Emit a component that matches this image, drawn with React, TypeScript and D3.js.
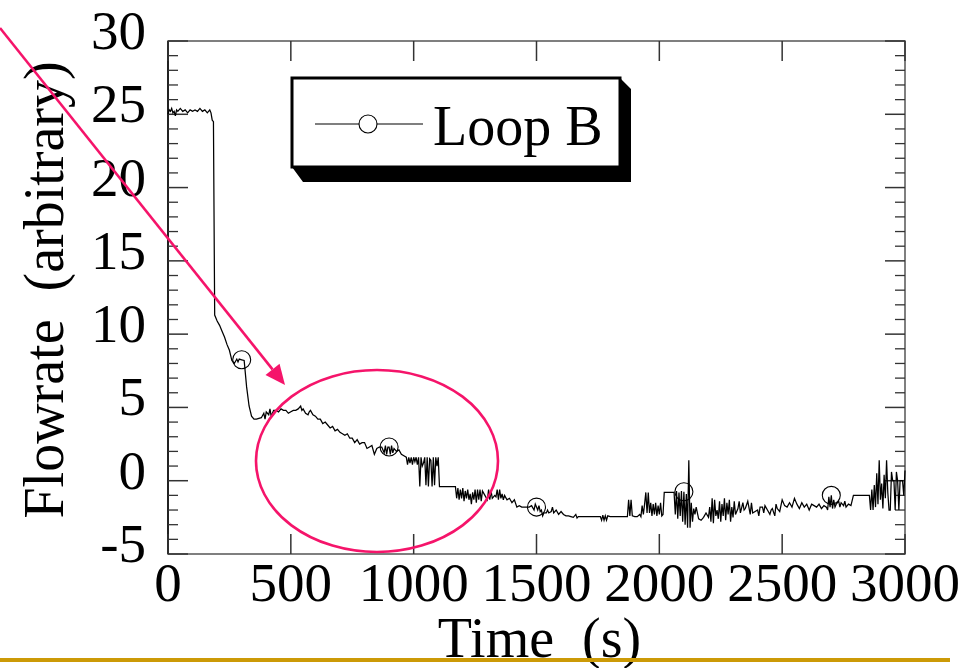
import React from "react";
import * as d3 from "d3";

const xTicks = [0, 500, 1000, 1500, 2000, 2500, 3000];
const yTicks = [-5, 0, 5, 10, 15, 20, 25, 30];
const markerTimes = [300, 900, 1500, 2100, 2700];
const seriesName = "Loop B";
const xTitle = "Time  (s)";
const yTitle = "Flowrate  (arbitrary)";

// [time (s), flowrate]
const loopB: [number, number][] = [
  [0, 25.0], [5, 25.3], [10, 25.2], [15, 25.4], [20, 25.1], [25, 25.2], [30, 24.9], [35, 25.3], [40, 25.2],
  [50, 25.4], [60, 25.2], [70, 25.3], [80, 25.1], [90, 25.3], [100, 25.2], [110, 25.3], [120, 25.2],
  [130, 25.4], [140, 25.2], [150, 25.3], [160, 25.1], [170, 25.3], [175, 25.1], [180, 24.6], [185, 24.5],
  [190, 11.3], [200, 10.9], [210, 10.6], [220, 10.2], [230, 9.8], [240, 9.3], [250, 8.9], [260, 8.2],
  [270, 8.0], [280, 8.3], [285, 8.1], [290, 8.3], [300, 8.25], [310, 8.2], [320, 6.4], [330, 5.1],
  [340, 4.4], [350, 4.2], [360, 4.2], [370, 4.25], [380, 4.3], [390, 4.6], [395, 4.2], [400, 4.7],
  [410, 4.5], [415, 4.9], [420, 4.4], [430, 4.8], [440, 4.8], [450, 4.7], [460, 4.9], [470, 4.8],
  [480, 4.8], [490, 4.6], [500, 4.7], [510, 4.8], [520, 4.8], [530, 4.9], [540, 5.1], [545, 4.8],
  [550, 4.9], [560, 4.6], [570, 4.5], [575, 4.7], [580, 4.8], [590, 4.5], [600, 4.4], [610, 4.2],
  [620, 4.2], [630, 3.9], [640, 4.0], [650, 3.8], [660, 3.6], [670, 3.7], [680, 3.4], [690, 3.5],
  [700, 3.3], [710, 3.2], [720, 3.1], [730, 3.2], [740, 2.9], [750, 2.9], [760, 2.6], [770, 2.8],
  [780, 2.5], [790, 2.6], [800, 2.6], [810, 2.2], [820, 2.3], [830, 2.4], [840, 1.8], [850, 2.2],
  [860, 2.3], [870, 2.3], [880, 1.9], [885, 2.4], [890, 1.8], [895, 2.3], [900, 2.3], [905, 1.8],
  [910, 2.4], [915, 1.9], [920, 2.2], [930, 2.0], [940, 2.1], [950, 1.8], [960, 1.7], [970, 1.6],
  [975, 1.1], [980, 1.6], [985, 1.2], [990, 1.6], [995, 1.1], [1000, 1.6], [1005, 1.3], [1010, 1.6],
  [1015, 1.1], [1020, 1.6], [1025, -0.4], [1030, 1.6], [1035, 1.0], [1040, 1.2], [1045, 1.6],
  [1050, -0.3], [1055, 1.6], [1060, -0.4], [1065, 1.5], [1070, 1.4], [1075, -0.4], [1080, 1.6],
  [1085, -0.3], [1090, 1.6], [1095, 1.0], [1100, 1.6], [1105, -0.4], [1170, -0.4], [1175, -1.2],
  [1180, -0.5], [1185, -1.3], [1190, -0.6], [1195, -1.2], [1200, -0.5], [1205, -1.4], [1210, -0.7],
  [1215, -1.2], [1220, -0.6], [1225, -1.3], [1230, -0.9], [1235, -1.6], [1240, -0.8], [1245, -1.3],
  [1250, -0.6], [1255, -1.5], [1260, -0.6], [1265, -1.3], [1270, -0.6], [1275, -1.4], [1280, -0.7],
  [1290, -1.0], [1300, -1.3], [1305, -0.6], [1310, -1.3], [1315, -0.7], [1320, -1.2], [1330, -1.0],
  [1335, -1.1], [1340, -0.6], [1345, -1.3], [1350, -0.6], [1355, -1.2], [1360, -0.9], [1365, -1.3],
  [1370, -1.0], [1380, -1.3], [1390, -1.2], [1400, -1.5], [1410, -1.3], [1420, -1.8], [1430, -1.7],
  [1440, -1.8], [1450, -1.8], [1460, -1.8], [1470, -1.8], [1480, -1.7], [1490, -2.0], [1495, -1.6],
  [1500, -1.8], [1505, -2.0], [1510, -1.7], [1515, -2.1], [1520, -2.0], [1525, -2.4], [1530, -2.2],
  [1540, -2.2], [1545, -2.0], [1550, -2.2], [1560, -2.1], [1565, -1.8], [1570, -2.2], [1580, -2.0],
  [1590, -2.3], [1600, -2.1], [1610, -2.3], [1620, -2.4], [1630, -2.4], [1640, -2.45], [1650, -2.5],
  [1660, -2.3], [1665, -2.55], [1670, -2.45], [1760, -2.45], [1765, -2.7], [1770, -2.35], [1775, -2.7],
  [1780, -2.4], [1785, -2.7], [1790, -2.4], [1800, -2.45], [1870, -2.45], [1875, -1.3], [1880, -2.4],
  [1885, -1.3], [1890, -2.4], [1900, -2.45], [1910, -2.45], [1920, -2.3], [1925, -2.45], [1930, -1.7],
  [1935, -2.3], [1940, -1.6], [1945, -0.8], [1950, -2.2], [1955, -0.8], [1960, -2.2], [1965, -1.5],
  [1970, -2.4], [1975, -1.6], [1980, -2.3], [1985, -1.5], [1990, -2.4], [1995, -1.7], [2000, -2.3],
  [2005, -1.5], [2010, -2.4], [2015, -2.3], [2020, -0.8], [2060, -0.8], [2065, -2.3], [2070, -0.7],
  [2075, -2.6], [2080, -0.8], [2085, -2.4], [2090, -0.7], [2095, -2.8], [2100, -0.75], [2105, -3.0],
  [2110, -0.9], [2115, -3.2], [2120, 1.4], [2125, -3.2], [2130, -1.5], [2135, -2.8], [2140, -1.9],
  [2145, -2.3], [2150, -1.8], [2160, -2.6], [2170, -2.7], [2180, -2.5], [2190, -2.2], [2200, -2.5],
  [2205, -1.8], [2210, -2.8], [2215, -1.2], [2220, -2.9], [2225, -1.3], [2230, -2.4], [2235, -2.0],
  [2240, -2.6], [2245, -1.4], [2250, -2.8], [2255, -1.6], [2260, -2.4], [2265, -1.2], [2270, -2.7],
  [2275, -1.5], [2280, -2.3], [2285, -1.3], [2290, -2.8], [2295, -1.8], [2300, -2.5], [2305, -1.4],
  [2310, -2.3], [2320, -1.9], [2325, -1.4], [2330, -2.2], [2340, -1.5], [2345, -2.0], [2350, -1.9],
  [2360, -1.4], [2370, -2.3], [2375, -1.5], [2380, -2.2], [2390, -2.1], [2400, -2.0], [2405, -2.4],
  [2410, -1.8], [2420, -1.8], [2425, -2.2], [2430, -1.7], [2440, -2.0], [2450, -2.3], [2455, -2.0],
  [2460, -1.9], [2470, -2.4], [2475, -1.6], [2480, -1.9], [2490, -2.1], [2500, -1.3], [2510, -1.7],
  [2520, -1.8], [2530, -1.5], [2540, -1.8], [2550, -1.2], [2560, -1.6], [2570, -1.9], [2580, -1.5],
  [2590, -1.8], [2600, -1.6], [2610, -2.0], [2620, -1.6], [2630, -1.7], [2640, -1.8], [2650, -1.6],
  [2660, -1.9], [2670, -1.7], [2680, -1.8], [2685, -2.0], [2690, -1.1], [2695, -1.8], [2700, -1.0],
  [2705, -1.9], [2710, -1.3], [2715, -1.8], [2720, -1.6], [2730, -1.4], [2735, -1.8], [2740, -1.5],
  [2750, -1.7], [2755, -1.4], [2760, -1.8], [2770, -1.6], [2780, -1.7], [2790, -1.0], [2855, -1.0],
  [2860, -2.0], [2865, -0.6], [2870, -2.0], [2875, -0.3], [2880, -1.8], [2885, 0.5], [2890, -1.6],
  [2895, 1.4], [2900, -1.3], [2905, -0.2], [2910, -1.9], [2915, 0.4], [2920, -1.2], [2925, 1.4],
  [2930, -0.8], [2935, -2.0], [2940, -2.0], [2945, 0.6], [2950, 0.0], [2955, 0.0], [2960, -2.0],
  [2965, 0.6], [2970, 0.0], [2975, -2.0], [2980, 0.0], [2990, 0.0], [2995, -1.0], [3000, 0.7],
];

const W = 976;
const H = 668;
const FONT = "'Liberation Serif', 'Times New Roman', serif";
const PINK = "#f5146a";

export default function App() {
  const x = d3.scaleLinear().domain([0, 3000]).range([168, 905]);
  const y = d3.scaleLinear().domain([-5, 30]).range([554, 41]);
  const [x0, x1] = x.range();
  const [yb, yt] = y.range();

  const line = d3
    .line<[number, number]>()
    .x((d) => x(d[0]))
    .y((d) => y(d[1]));

  const yMinor = d3.range(-5, 31, 1).filter((v) => !yTicks.includes(v));
  const markers = loopB.filter((d) => markerTimes.includes(d[0]));

  // legend
  const lx0 = 292, ly0 = 78, lx1 = 620, ly1 = 167;
  const sh = 11;

  // arrow
  const ax0 = 0, ay0 = 28, ax1 = 285, ay1 = 385;
  const ang = Math.atan2(ay1 - ay0, ax1 - ax0);
  const hl = 20, hw = 9;
  const bx = ax1 - hl * Math.cos(ang);
  const by = ay1 - hl * Math.sin(ang);
  const head = [
    [ax1, ay1],
    [bx + hw * Math.sin(ang), by - hw * Math.cos(ang)],
    [bx - hw * Math.sin(ang), by + hw * Math.cos(ang)],
  ];

  return (
    <svg
      width={W}
      height={H}
      viewBox={`0 0 ${W} ${H}`}
      style={{ position: "absolute", left: 0, top: 0, background: "#fff" }}
      fontFamily={FONT}
    >
      <rect x={0} y={0} width={W} height={H} fill="#fff" />
      {/* frame */}
      <rect x={x0} y={yt} width={x1 - x0} height={yb - yt} fill="none" stroke="#555" strokeWidth={1.5} />
      <line x1={x0} x2={x0} y1={yt} y2={yb} stroke="#222" strokeWidth={2} />
      {/* y ticks */}
      {yTicks.map((v) => (
        <g key={"ym" + v}>
          <line x1={x0} x2={x0 + 20} y1={y(v)} y2={y(v)} stroke="#333" strokeWidth={1.5} />
          <line x1={x1} x2={x1 - 20} y1={y(v)} y2={y(v)} stroke="#333" strokeWidth={1.5} />
          <text x={146} y={y(v) + 8} fontSize={55} textAnchor="end" fill="#000">
            {v}
          </text>
        </g>
      ))}
      {yMinor.map((v) => (
        <g key={"yn" + v}>
          <line x1={x0} x2={x0 + 10} y1={y(v)} y2={y(v)} stroke="#333" strokeWidth={1.3} />
          <line x1={x1} x2={x1 - 10} y1={y(v)} y2={y(v)} stroke="#333" strokeWidth={1.3} />
        </g>
      ))}
      {/* x ticks */}
      {xTicks.map((v) => (
        <g key={"x" + v}>
          <line x1={x(v)} x2={x(v)} y1={yb} y2={yb - 20} stroke="#333" strokeWidth={1.5} />
          <line x1={x(v)} x2={x(v)} y1={yt} y2={yt + 20} stroke="#333" strokeWidth={1.5} />
          <text x={x(v)} y={601} fontSize={55} textAnchor="middle" fill="#000">
            {v}
          </text>
        </g>
      ))}
      {/* titles */}
      <text x={(x0 + x1) / 2 + 3} y={657} fontSize={56} textAnchor="middle" fill="#000" style={{ whiteSpace: "pre" }}>
        {xTitle}
      </text>
      <text
        transform="translate(63,290) rotate(-90)"
        fontSize={56}
        textAnchor="middle"
        fill="#000"
        style={{ whiteSpace: "pre" }}
      >
        {yTitle}
      </text>
      {/* data */}
      <path d={line(loopB) || ""} fill="none" stroke="#000" strokeWidth={1.25} strokeLinejoin="miter" />
      {markers.map((d) => (
        <circle key={"m" + d[0]} cx={x(d[0])} cy={y(d[1])} r={9} fill="none" stroke="#000" strokeWidth={1.1} />
      ))}
      {/* legend */}
      <polygon
        points={`${lx0},${ly1} ${lx1},${ly1} ${lx1},${ly0} ${lx1 + sh},${ly0 + sh} ${lx1 + sh},${ly1 + sh + 4} ${lx0 + sh},${ly1 + sh + 4}`}
        fill="#000"
      />
      <rect x={lx0} y={ly0} width={lx1 - lx0} height={ly1 - ly0} fill="#fff" stroke="#000" strokeWidth={3} />
      <line x1={315} x2={423} y1={124} y2={124} stroke="#000" strokeWidth={1.1} />
      <circle cx={368} cy={124} r={9} fill="#fff" stroke="#000" strokeWidth={1.1} />
      <text x={433} y={145} fontSize={56} fill="#000">
        {seriesName}
      </text>
      {/* annotations */}
      <ellipse cx={377} cy={461} rx={121} ry={91} fill="none" stroke={PINK} strokeWidth={2.6} />
      <line x1={ax0} y1={ay0} x2={bx} y2={by} stroke={PINK} strokeWidth={2.6} />
      <polygon points={head.map((p) => p.join(",")).join(" ")} fill={PINK} />
      <line x1={0} x2={950} y1={660} y2={660} stroke="#cc9a06" strokeWidth={4} />
    </svg>
  );
}
